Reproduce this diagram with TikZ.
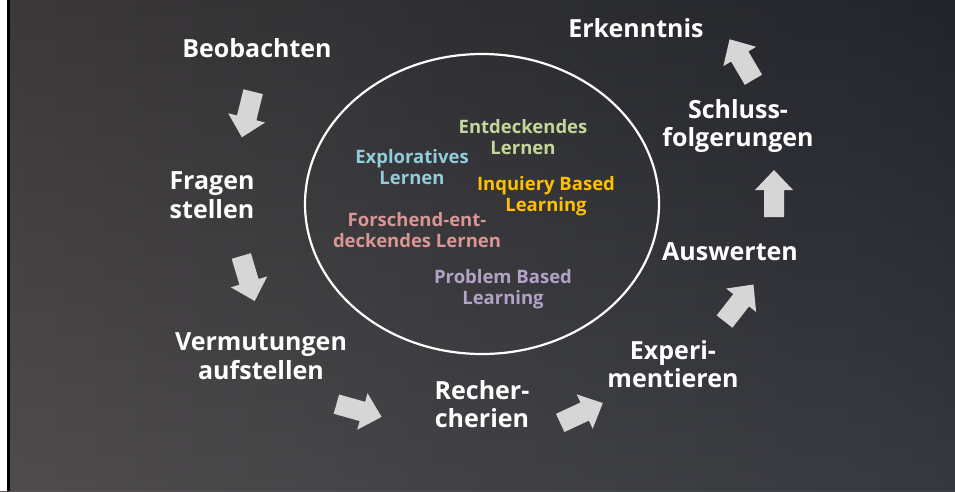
\documentclass[tikz,border=0pt]{standalone}
\usepackage{fontspec}
\setmainfont{Open Sans}
\usetikzlibrary{shapes.geometric}
\definecolor{boardL}{HTML}{4A4647}
\definecolor{boardR}{HTML}{2A2E36}
\definecolor{arrowfill}{HTML}{D6D6D6}
\definecolor{cGreen}{HTML}{C4D79B}
\definecolor{cBlue}{HTML}{92CDDC}
\definecolor{cGold}{HTML}{FFC000}
\definecolor{cRose}{HTML}{D99694}
\definecolor{cLav}{HTML}{B3A2C7}
\tikzset{
  step label/.style={text=white, align=center, inner sep=0pt,
    font=\fontsize{25}{28.5}\selectfont\bfseries},
  inner label/.style={align=center, inner sep=0pt,
    font=\fontsize{18.5}{21.5}\selectfont\bfseries},
  barrow/.pic={\fill[arrowfill] (-23.5,-10) -- (3.5,-10) -- (3.5,-19) -- (23.5,0) -- (3.5,19) -- (3.5,10) -- (-23.5,10) -- cycle;}
}
\begin{document}
\begin{tikzpicture}[x=1pt,y=-1pt]
\useasboundingbox (0,0) rectangle (955,491);
\shade[left color=boardL, right color=boardR] (0,0) rectangle (955,491);
\fill[black, opacity=0.12] (0,0) rectangle (955,491);
\shade[top color=black, bottom color=white, opacity=0.08] (0,0) rectangle (955,491);
\fill[white] (0,0) rectangle (7,491);
\fill[black] (7,0) rectangle (9.5,491);
\node[ellipse, draw=white, line width=2.2pt, minimum width=354, minimum height=300, inner sep=0pt] (ring) at (482,204) {};
% outer steps
\node[step label] (beob) at (257,48) {Beobachten};
\node[step label] (frag) at (212,195) {Fragen\\stellen};
\node[step label] (verm) at (261,356) {Vermutungen\\aufstellen};
\node[step label] (rech) at (482,404) {Recher-\\cherien};
\node[step label] (expe) at (673,364) {Experi-\\mentieren};
\node[step label] (ausw) at (730,252) {Auswerten};
\node[step label] (schl) at (738,126) {Schluss-\\folgerungen};
\node[step label] (erke) at (636,28) {Erkenntnis};
% inner labels
\node[inner label, text=cGreen] (entd) at (523,137) {Entdeckendes\\Lernen};
\node[inner label, text=cBlue] (expl) at (412,167) {Exploratives\\Lernen};
\node[inner label, text=cGold] (inqu) at (546,196) {Inquiery Based\\Learning};
\node[inner label, text=cRose] (fors) at (417,230) {Forschend-ent-\\deckendes Lernen};
\node[inner label, text=cLav] (prob) at (503,289) {Problem Based\\Learning};
% block arrows
\pic[rotate=256] at (247.5,114.5) {barrow};
\pic[rotate=-73.4] at (248,278.5) {barrow};
\pic[rotate=-15.8] at (359,410.5) {barrow};
\pic[rotate=25] at (581.5,413) {barrow};
\pic[rotate=52] at (739,303) {barrow};
\pic[rotate=90] at (774,193.5) {barrow};
\pic[rotate=120.5] at (741.5,59.5) {barrow};
\end{tikzpicture}
\end{document}
